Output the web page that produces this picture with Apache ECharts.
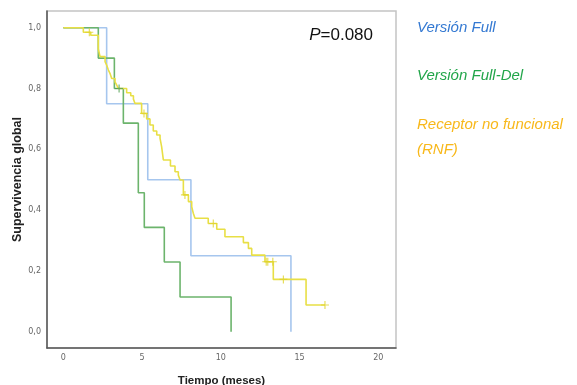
<!DOCTYPE html>
<html>
<head>
<meta charset="utf-8">
<script src="https://cdn.jsdelivr.net/npm/echarts@6/dist/echarts.min.js"></script>
<style>
  html, body { margin: 0; padding: 0; background: #ffffff; }
  #chart { width: 577px; height: 385px; }
</style>
</head>
<body>
<div id="chart"></div>
<script>
// Curvas de Kaplan-Meier (tiempo en meses, supervivencia)
const fullTime = [0, 2.75, 5.36, 8.1, 14.45];
const fullSurv = [1, 0.75, 0.5, 0.25, 0];

const delTime = [0, 2.22, 3.24, 3.81, 4.76, 5.14, 6.41, 7.41, 10.65];
const delSurv = [1, 0.9, 0.8, 0.686, 0.457, 0.343, 0.229, 0.114, 0];
const delCensTime = [3.54];
const delCensSurv = [0.8];

const rnfTime = [0, 1.27, 1.74, 2.22, 2.33, 2.65, 2.75, 2.86, 2.96, 3.07, 3.28, 3.39, 3.49,
  4.02, 4.28, 4.45, 4.55, 4.97, 5.29, 5.5, 5.71, 5.93, 6.14, 6.24, 6.35, 6.8, 7.09, 7.3, 7.41,
  7.62, 7.94, 8.15, 8.25, 8.36, 9.2, 9.74, 10.26, 11.43, 11.75, 11.96, 12.8, 13.33, 15.41, 16.61];
const rnfSurv = [1, 0.985, 0.975, 0.93, 0.905, 0.888, 0.877, 0.861, 0.85, 0.833, 0.822, 0.811, 0.8,
  0.786, 0.776, 0.765, 0.751, 0.718, 0.7, 0.68, 0.66, 0.647, 0.636, 0.609, 0.565, 0.545, 0.526, 0.515, 0.499,
  0.45, 0.428, 0.411, 0.39, 0.373, 0.356, 0.337, 0.3125, 0.293, 0.274, 0.252, 0.23, 0.172, 0.0877, 0.0877];
const rnfCensTime = [1.65, 5.12, 7.72, 9.52, 12.88, 12.98, 13.3, 13.97, 16.61];
const rnfCensSurv = [0.985, 0.718, 0.45, 0.356, 0.23, 0.23, 0.23, 0.172, 0.0877];

const xTicks = [0, 5, 10, 15, 20];
const yTicks = [0, 0.2, 0.4, 0.6, 0.8, 1.0];

const seriesNames = ['Versión Full', 'Versión Full-Del', 'Receptor no funcional'];
const lineColors = ['#a6c6ee', '#6cb46c', '#e8df45'];
const labelColors = ['#3479d2', '#22a54a', '#f8b81a'];

const zip = (a, b) => a.map((v, i) => [v, b[i]]);
const plus = 'path://M3,0h1v3h3v1h-3v3h-1v-3h-3v-1h3z';

const chart = echarts.init(document.getElementById('chart'));

const stepSeries = (name, t, s, color) => ({
  name: name,
  type: 'line',
  step: 'end',
  symbol: 'none',
  lineStyle: { color: color, width: 1.6 },
  data: zip(t, s),
  z: 3,
});

const censSeries = (name, t, s, color) => ({
  name: name,
  type: 'scatter',
  symbol: plus,
  symbolSize: 8,
  itemStyle: { color: color },
  data: zip(t, s),
  z: 4,
});

const option = {
  backgroundColor: '#ffffff',
  animation: false,
  grid: {
    left: 47,
    top: 11,
    right: 181,
    bottom: 37,
    outerBoundsMode: 'none',
    containLabel: false,
    show: true,
    borderColor: '#c4c4c4',
    borderWidth: 1.5,
  },
  xAxis: {
    type: 'value',
    min: -1.037,
    max: 21.12,
    name: 'Tiempo (meses)',
    nameLocation: 'middle',
    nameGap: 27,
    nameMoveOverlap: false,
    nameTextStyle: { fontFamily: 'Liberation Sans', fontWeight: 'bold', fontSize: 11.5, color: '#222' },
    axisLine: { onZero: false, lineStyle: { color: '#555', width: 1.5 } },
    axisTick: { show: false },
    splitLine: { show: false },
    axisLabel: {
      customValues: xTicks,
      margin: 6,
      fontFamily: 'DejaVu Sans',
      fontSize: 8,
      color: '#666',
    },
  },
  yAxis: {
    type: 'value',
    min: -0.0537,
    max: 1.055,
    name: 'Supervivencia global',
    nameLocation: 'middle',
    nameGap: 23,
    nameMoveOverlap: false,
    nameTextStyle: { fontFamily: 'Liberation Sans', fontWeight: 'bold', fontSize: 12.5, color: '#222' },
    axisLine: { show: true, onZero: false, lineStyle: { color: '#555', width: 1.5 } },
    axisTick: { show: false },
    splitLine: { show: false },
    axisLabel: {
      customValues: yTicks,
      margin: 6,
      fontFamily: 'DejaVu Sans',
      fontSize: 8,
      color: '#666',
      formatter: (v) => v.toFixed(1).replace('.', ','),
    },
  },
  series: [
    stepSeries(seriesNames[0], fullTime, fullSurv, lineColors[0]),
    stepSeries(seriesNames[1], delTime, delSurv, lineColors[1]),
    stepSeries(seriesNames[2], rnfTime, rnfSurv, lineColors[2]),
    censSeries(seriesNames[1], delCensTime, delCensSurv, '#4f9e4f'),
    censSeries(seriesNames[2], rnfCensTime, rnfCensSurv, '#e0d32c'),
  ],
  graphic: [
    {
      type: 'text',
      right: 577 - 373,
      top: 27,
      style: {
        text: '{i|P}=0.080',
        font: '17px "Liberation Sans"',
        fill: '#111',
        rich: { i: { fontStyle: 'italic', fontSize: 17, fontFamily: 'Liberation Sans', fill: '#111' } },
      },
    },
    {
      type: 'text', left: 417, top: 20,
      style: { text: 'Versión Full', font: 'italic 15px "Liberation Sans"', fill: labelColors[0] },
    },
    {
      type: 'text', left: 417, top: 68,
      style: { text: 'Versión Full-Del', font: 'italic 15px "Liberation Sans"', fill: labelColors[1] },
    },
    {
      type: 'text', left: 417, top: 117,
      style: { text: 'Receptor no funcional', font: 'italic 15px "Liberation Sans"', fill: labelColors[2] },
    },
    {
      type: 'text', left: 417, top: 142,
      style: { text: '(RNF)', font: 'italic 15px "Liberation Sans"', fill: labelColors[2] },
    },
  ],
};

chart.setOption(option);
</script>
</body>
</html>
